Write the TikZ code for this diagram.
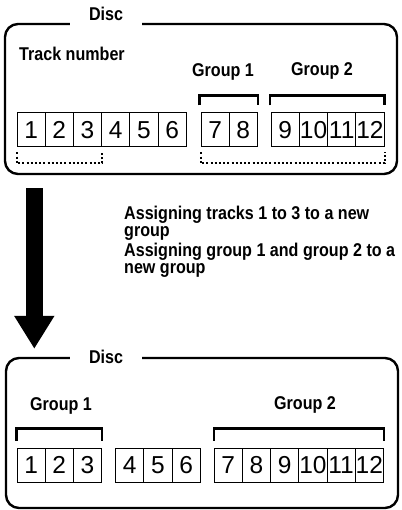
\documentclass[tikz,border=0pt]{standalone}
\usepackage{fontspec}
\setmainfont{Liberation Sans}
\newfontfamily\condfont[FakeStretch=0.87]{Liberation Sans}
\newcommand\groupfont{\condfont\bfseries\fontsize{18.5}{17}\selectfont\lineskiplimit=-20pt\relax}
\usetikzlibrary{arrows.meta,positioning}

\begin{document}
\begin{tikzpicture}[x=1pt,y=-1pt,node distance=28.2pt,on grid]
		\tikzstyle{track}=[draw,line width=1pt,minimum width=28.2pt,minimum height=34pt,inner sep=0pt,font=\fontsize{24.5}{26}\selectfont]
		\tikzstyle{discframe}=[draw,line width=2.4pt,rounded corners=13pt,minimum width=392pt,minimum height=150pt]
		\tikzstyle{disctitle}=[fill=white,inner xsep=19pt,inner ysep=5pt,font=\groupfont]
		\tikzstyle{grouptext}=[inner sep=0pt,font=\groupfont]
		\tikzstyle{bracket}=[line width=2.2pt]
		\tikzstyle{dotbracket}=[line width=2pt,dash pattern=on 2pt off 2.2pt]
		\tikzstyle{bigarrow}=[line width=17pt,-{Triangle[length=33pt,width=38pt]}]
		
		\useasboundingbox (0,0) rectangle (401,510);
		
		% before
		\node[discframe] (disc_a) at (201,99) {};
		\node[disctitle,anchor=base] (title_a) at (106,21) {Disc};
		\node[grouptext,anchor=base west] (track_no) at (19,61) {Track number};
		\node[grouptext,anchor=base] (group_a1) at (223,77) {Group 1};
		\node[grouptext,anchor=base] (group_a2) at (322,76) {Group 2};
		
		\node[track] (t_1) at (31.1,130)      {1};
		\node[track] (t_2) [right of=t_1]     {2};
		\node[track] (t_3) [right of=t_2]     {3};
		\node[track] (t_4) [right of=t_3]     {4};
		\node[track] (t_5) [right of=t_4]     {5};
		\node[track] (t_6) [right of=t_5]     {6};
		\node[track] (t_7) [right=43pt of t_6] {7};
		\node[track] (t_8) [right of=t_7]     {8};
		\node[track] (t_9) [right=42pt of t_8] {9};
		\node[track] (t_10) [right of=t_9]    {10};
		\node[track] (t_11) [right of=t_10]   {11};
		\node[track] (t_12) [right of=t_11]   {12};
		
		\draw[bracket] ([xshift=-1pt,yshift=7pt]t_7.north west) -- ++(0,10pt) -| ([yshift=7pt]t_8.north east);
		\draw[bracket] ([xshift=-1pt,yshift=7pt]t_9.north west) -- ++(0,10pt) -| ([yshift=7pt]t_12.north east);
		\draw[dotbracket] ([yshift=-5pt]t_1.south west) -- ++(0,-11pt) -| ([yshift=-5pt]t_3.south east);
		\draw[dotbracket] ([yshift=-5pt]t_7.south west) -- ++(0,-11pt) -| ([yshift=-5pt]t_12.south east);
		
		% after
		\node[discframe] (disc_b) at (202,433) {};
		\node[disctitle] (title_b) at (106,356.5) {Disc};
		\node[grouptext,anchor=base] (group_b1) at (61,410) {Group 1};
		\node[grouptext,anchor=base] (group_b2) at (305,409) {Group 2};
		
		\node[track] (b_1) at (31.1,465)        {1};
		\node[track] (b_2) [right of=b_1]       {2};
		\node[track] (b_3) [right of=b_2]       {3};
		\node[track] (b_4) [right=42.2pt of b_3] {4};
		\node[track] (b_5) [right of=b_4]       {5};
		\node[track] (b_6) [right of=b_5]       {6};
		\node[track] (b_7) [right=42.2pt of b_6] {7};
		\node[track] (b_8) [right of=b_7]       {8};
		\node[track] (b_9) [right of=b_8]       {9};
		\node[track] (b_10) [right of=b_9]      {10};
		\node[track] (b_11) [right of=b_10]     {11};
		\node[track] (b_12) [right of=b_11]     {12};
		
		\draw[bracket] ([yshift=7pt]b_1.north west) -- ++(0,12pt) -| ([yshift=7pt]b_3.north east);
		\draw[bracket] ([yshift=7pt]b_7.north west) -- ++(0,12pt) -| ([yshift=7pt]b_12.north east);
		
		% operation
		\draw[bigarrow] ([xshift=30.5pt,yshift=-13pt]disc_a.south west) -- ([xshift=29.5pt,yshift=8pt]disc_b.north west);
		\node[grouptext,anchor=north west,align=left] (note) at (124,205.7)
		{Assigning tracks 1 to 3 to a new\\group\\[3pt]Assigning group 1 and group 2 to a\\new group};
		
\end{tikzpicture}
\end{document}
